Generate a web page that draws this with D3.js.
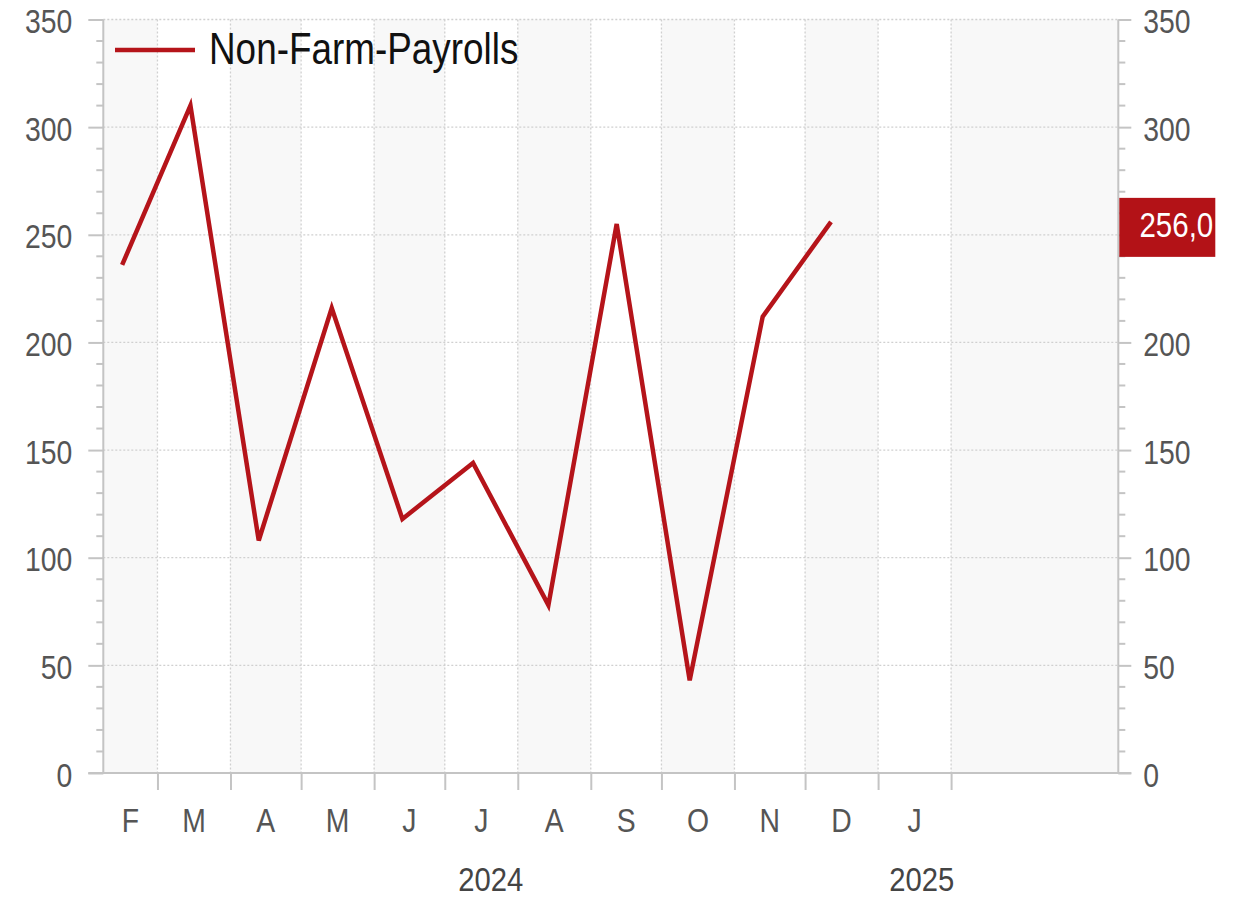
<!DOCTYPE html>
<html><head><meta charset="utf-8">
<script src="https://cdn.jsdelivr.net/npm/d3@7"></script>
<style>body{margin:0;background:#fff}svg{display:block}</style>
</head><body><svg id="chart" width="1235" height="899"></svg>
<script>
// ---- data ----
const dates = ["2024-02-15","2024-03-15","2024-04-13","2024-05-14","2024-06-13","2024-07-13","2024-08-14","2024-09-12","2024-10-13","2024-11-13","2024-12-12"];
const payrolls = [236, 310, 108, 216, 118, 144, 78, 255, 43, 212, 256];
const seriesName = "Non-Farm-Payrolls";
const monthLabels = ["F","M","A","M","J","J","A","S","O","N","D","J"];
const yearLabels = ["2024","2025"];
const yTicks = [0,50,100,150,200,250,300,350];
const lastValueLabel = "256,0";

// ---- setup ----
const parse = d3.timeParse("%Y-%m-%d");
const data = dates.map((d,i)=>({date:parse(d), value:payrolls[i]}));
const domStart = parse("2024-02-07"), labelEnd = parse("2025-02-07"), domEnd = parse("2025-04-13");
const L = 103.3, R = 1118.3, B = 773, T = 19.5;
const x = d3.scaleTime().domain([domStart, domEnd]).range([L, R]);
const y = d3.scaleLinear().domain([0, 350]).range([B, T]);
const svg = d3.select("#chart");
const font = "'Liberation Sans','Arimo',Arial,sans-serif";
const red = "#b5141a", axisCol = "#c4c4c4", txtCol = "#555";
// condense text horizontally around its own x anchor
function narrow(sel, s){
  sel.each(function(){
    const t = d3.select(this);
    const xv = +t.attr("x") || 0;
    t.attr("transform", `matrix(${s},0,0,1,${xv*(1-s)},0)`);
  });
}

// background bands
const bandStarts = d3.timeMonth.range(parse("2024-02-01"), parse("2025-03-01"));
svg.append("g").selectAll("rect").data(bandStarts).join("rect")
  .attr("x", d => x(d3.max([d, domStart])))
  .attr("width", (d,i) => {
    const e = i === bandStarts.length-1 ? domEnd : d3.timeMonth.offset(d,1);
    return x(e) - x(d3.max([d, domStart]));
  })
  .attr("y", T).attr("height", B - T)
  .attr("fill", (d,i) => i % 2 === 0 ? "#f8f8f8" : "#ffffff");

// grid
const monthTicks = d3.timeMonth.range(parse("2024-03-01"), parse("2025-02-02"));
const grid = svg.append("g").attr("stroke", "#d0d0d0").attr("stroke-width", 1.3).attr("stroke-dasharray", "2,2");
grid.selectAll("line.v").data(monthTicks).join("line")
  .attr("x1", d => x(d)).attr("x2", d => x(d)).attr("y1", T).attr("y2", B);
grid.selectAll("line.h").data(yTicks.filter(v => v > 0)).join("line")
  .attr("x1", L).attr("x2", R).attr("y1", d => y(d)).attr("y2", d => y(d));

// y axes
const minor = d3.range(0, 351, 10).filter(v => v % 50 !== 0);
const leftAxis = d3.axisLeft(y).tickValues(yTicks).tickSize(15).tickPadding(16);
// right-side 250 label is covered by the last-value box in the reference
const rightAxis = d3.axisRight(y).tickValues(yTicks).tickSize(13).tickPadding(12)
  .tickFormat(d => d === 250 ? "" : d);
function styleAxis(g){
  g.select(".domain").attr("stroke", axisCol).attr("stroke-width", 2);
  g.selectAll(".tick line").attr("stroke", axisCol).attr("stroke-width", 2);
  g.selectAll(".tick text").attr("fill", txtCol).attr("font-family", font).attr("font-size", 33).attr("dy", "0.4em")
    .call(narrow, 0.86);
}
const gl = svg.append("g").attr("transform", `translate(${L},0)`).call(leftAxis).call(styleAxis);
gl.select(".domain").attr("d", `M0,${T}V${B}`);
const gr = svg.append("g").attr("transform", `translate(${R},0)`).call(rightAxis).call(styleAxis);
gr.select(".domain").attr("d", `M0,${T}V${B}`);
gl.selectAll("line.minor").data(minor).join("line").attr("class","minor")
  .attr("x1", -7).attr("x2", 0).attr("y1", d => y(d)).attr("y2", d => y(d))
  .attr("stroke", axisCol).attr("stroke-width", 2);
gr.selectAll("line.minor").data(minor).join("line").attr("class","minor")
  .attr("x1", 0).attr("x2", 7).attr("y1", d => y(d)).attr("y2", d => y(d))
  .attr("stroke", axisCol).attr("stroke-width", 2);

// x axis
const gx = svg.append("g").attr("transform", `translate(0,${B})`)
  .call(d3.axisBottom(x).tickValues(monthTicks).tickSize(17).tickFormat(""));
gx.select(".domain").attr("d", `M${L-15},0H${R+13}`).attr("stroke", axisCol).attr("stroke-width", 2);
gx.selectAll(".tick line").attr("stroke", axisCol).attr("stroke-width", 2);

const labelMonths = d3.timeMonth.range(parse("2024-02-01"), parse("2025-02-01"));
svg.append("g").selectAll("text").data(labelMonths).join("text")
  .attr("x", d => (x(d3.max([d, domStart])) + x(d3.timeMonth.offset(d,1))) / 2)
  .attr("y", 832).attr("text-anchor", "middle")
  .attr("font-family", font).attr("font-size", 33).attr("fill", txtCol)
  .text((d,i) => monthLabels[i]).call(narrow, 0.86);

const yearRanges = [[domStart, parse("2025-01-01")], [parse("2025-01-01"), labelEnd]];
svg.append("g").selectAll("text").data(yearRanges).join("text")
  .attr("x", d => (x(d[0]) + x(d[1])) / 2)
  .attr("y", 891).attr("text-anchor", "middle")
  .attr("font-family", font).attr("font-size", 34).attr("fill", "#444")
  .text((d,i) => yearLabels[i]).call(narrow, 0.86);

// line
svg.append("path").datum(data)
  .attr("d", d3.line().x(d => x(d.date)).y(d => y(d.value)))
  .attr("fill", "none").attr("stroke", red).attr("stroke-width", 4.5)
  .attr("stroke-linejoin", "miter");

// legend
svg.append("line").attr("x1", 115).attr("x2", 195).attr("y1", 50).attr("y2", 50)
  .attr("stroke", red).attr("stroke-width", 4.5);
svg.append("text").attr("x", 209).attr("y", 64)
  .attr("font-family", font).attr("font-size", 45).attr("fill", "#111")
  .text(seriesName).call(narrow, 0.82);

// last value label
const last = data[data.length-1];
svg.append("rect").attr("x", R + 1).attr("y", y(last.value) - 24)
  .attr("width", 96).attr("height", 59).attr("fill", "#b31217");
svg.append("text").attr("x", R + 95).attr("y", y(last.value) + 15)
  .attr("text-anchor", "end").attr("font-family", font).attr("font-size", 36)
  .attr("fill", "#fff").text(lastValueLabel).call(narrow, 0.82);
</script></body></html>
